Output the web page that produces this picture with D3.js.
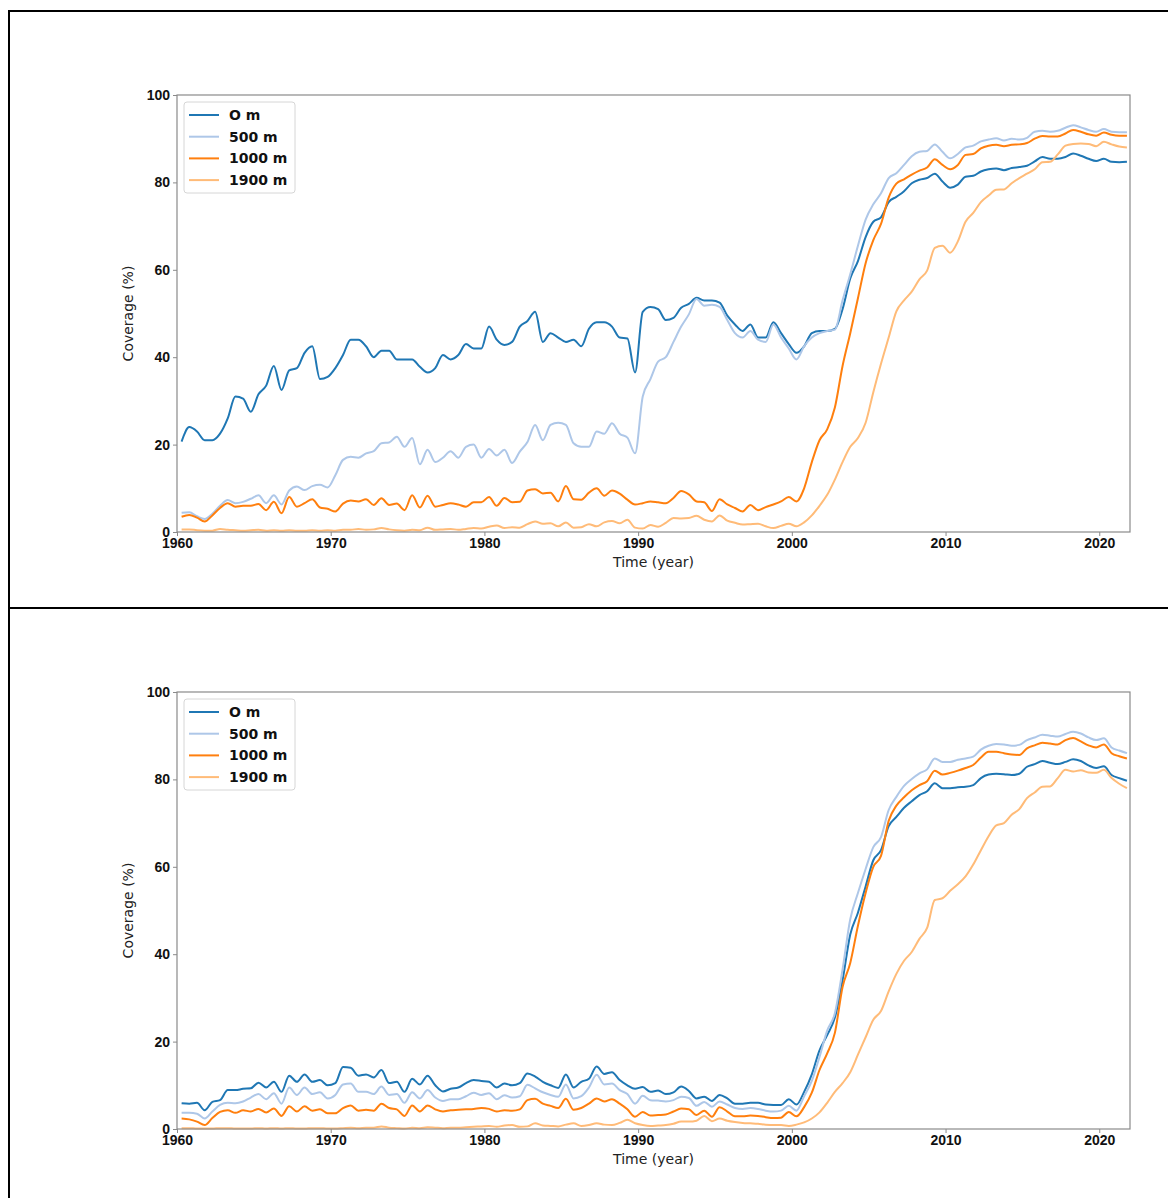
<!DOCTYPE html>
<html>
<head>
<meta charset="utf-8">
<script src="https://cdn.jsdelivr.net/npm/d3@7"></script>
<style>
  body { margin: 0; background: #fff; }
  svg { display: block; font-family: "DejaVu Sans", sans-serif; }
</style>
</head>
<body>
<div id="chart"></div>
<script>
// time axis: one value every half year, from 1960.3 to 2021.8
const years = d3.range(124).map((i) => 1960.3 + i * 0.5);

const seriesNames = ["O m", "500 m", "1000 m", "1900 m"];
const seriesColors = ["#1f77b4", "#aec7e8", "#ff7f0e", "#ffbb78"];

const xTicks = [1960, 1970, 1980, 1990, 2000, 2010, 2020];
const yTicks = [0, 20, 40, 60, 80, 100];

// top panel
const top0 = [
  20.7, 24.0, 23.0, 21.0, 21.0, 22.5, 26.0, 31.0, 30.5, 27.5,
  31.5, 33.5, 38.0, 32.5, 37.0, 37.5, 41.0, 42.5, 35.0, 35.5,
  37.5, 40.5, 44.0, 44.0, 42.5, 40.0, 41.5, 41.5, 39.5, 39.5,
  39.5, 37.8, 36.5, 37.5, 40.5, 39.5, 40.5, 43.0, 42.0, 42.0,
  47.0, 44.0, 42.8, 43.5, 47.0, 48.3, 50.4, 43.5, 45.5, 44.5,
  43.5, 44.0, 42.5, 46.5, 48.0, 48.0, 47.0, 44.5, 44.3, 36.5,
  50.4, 51.5, 51.0, 48.5, 49.0, 51.3, 52.2, 53.6, 53.0, 53.0,
  52.5, 49.5, 47.5, 46.0, 47.5, 44.5, 44.5, 48.0, 45.5, 43.0,
  41.0, 42.5, 45.5, 46.0, 46.0, 46.5, 51.0, 58.0, 62.0, 67.5,
  71.0, 72.0, 75.5, 76.7, 78.0, 79.8, 80.6, 81.0, 82.0, 80.2,
  78.8, 79.5, 81.3, 81.5, 82.5, 83.0, 83.2, 82.8, 83.3, 83.5,
  83.8, 84.8, 85.8, 85.4, 85.4, 85.8, 86.6, 86.1, 85.4, 84.9,
  85.4, 84.7, 84.6, 84.7
];
const top500 = [
  4.4, 4.5, 3.6, 3.0, 4.2, 6.0, 7.3, 6.6, 6.9, 7.6,
  8.4, 6.6, 8.4, 6.3, 9.5, 10.4, 9.6, 10.5, 10.8, 10.2,
  13.0, 16.5, 17.2, 17.0, 18.0, 18.5, 20.3, 20.5, 21.8, 19.5,
  21.5, 15.5, 18.8, 16.0, 17.0, 18.5, 17.0, 19.5, 20.0, 17.0,
  19.0, 17.5, 18.8, 15.8, 18.4, 20.6, 24.5, 21.0, 24.5, 25.0,
  24.5, 20.3, 19.5, 19.5, 23.0, 22.5, 24.9, 22.5, 21.6, 18.0,
  31.0, 35.0, 39.0, 40.0, 43.5, 47.0, 49.8, 53.3, 51.8, 52.0,
  51.5, 48.5, 45.5, 44.5, 46.0, 44.0, 43.5, 47.5, 44.5, 42.0,
  39.5, 42.5, 44.5, 45.5, 46.0, 46.3, 53.0, 59.0, 65.5, 71.5,
  75.0, 77.5, 81.0, 82.1, 84.0, 86.0, 87.0, 87.2, 88.7, 87.0,
  85.5, 86.5, 88.0, 88.4, 89.4, 89.8, 90.1, 89.6, 90.0, 89.8,
  90.2, 91.6, 91.8, 91.6, 91.8, 92.5, 93.1, 92.6, 92.0, 91.6,
  92.2, 91.6, 91.5, 91.5
];
const top1000 = [
  3.5, 3.9, 3.3, 2.4, 3.8, 5.5, 6.6, 5.8, 6.0, 6.0,
  6.4, 5.0, 6.9, 4.3, 8.0, 5.8, 6.6, 7.5, 5.6, 5.3,
  4.7, 6.5, 7.2, 7.0, 7.5, 6.2, 7.7, 6.2, 6.5, 5.0,
  8.4, 5.6, 8.3, 5.8, 6.2, 6.6, 6.3, 5.8, 6.8, 6.8,
  8.0, 6.0, 7.8, 6.8, 6.9, 9.5, 9.8, 8.8, 9.0, 7.0,
  10.5, 7.5, 7.4, 9.0, 10.0, 8.3, 9.5, 8.8, 7.4, 6.3,
  6.6, 7.0, 6.8, 6.6, 7.8, 9.4, 8.6, 7.0, 6.8, 4.8,
  7.5, 6.3, 5.5, 4.7, 6.2, 5.0, 5.7, 6.3, 7.0, 8.0,
  7.0, 10.0, 16.0, 21.0, 23.5, 28.5, 38.0, 45.5, 53.5, 61.5,
  66.8, 70.5, 76.5, 79.7, 80.7, 81.8, 82.7, 83.4, 85.3, 84.0,
  83.0, 84.0, 86.3, 86.5, 87.8, 88.4, 88.6, 88.3, 88.6, 88.7,
  89.0, 90.0, 90.6, 90.5, 90.5, 91.2, 92.0, 91.6, 91.0, 90.7,
  91.4, 90.9, 90.7, 90.7
];
const top1900 = [
  0.6, 0.6, 0.4, 0.3, 0.3, 0.7, 0.5, 0.4, 0.3, 0.4,
  0.5, 0.3, 0.4, 0.3, 0.4, 0.3, 0.3, 0.4, 0.3, 0.4,
  0.3, 0.5, 0.5, 0.7, 0.5, 0.6, 0.9, 0.6, 0.4, 0.3,
  0.5, 0.4, 1.0, 0.5, 0.6, 0.7, 0.5, 0.7, 0.9, 0.8,
  1.2, 1.5, 0.9, 1.1, 1.0, 1.8, 2.4, 1.9, 2.0, 1.3,
  2.2, 1.0, 1.1, 1.8, 1.3, 2.2, 2.5, 2.0, 2.8, 1.0,
  0.8, 1.6, 1.2, 2.1, 3.2, 3.1, 3.2, 3.7, 2.8, 2.4,
  3.8, 2.6, 2.1, 1.7, 1.8, 1.9, 1.3, 0.9, 1.4, 1.9,
  1.3, 2.2, 3.8, 6.0, 8.5, 12.0, 16.0, 19.5, 21.5, 25.0,
  32.0, 38.5, 44.5, 50.5, 53.0, 55.0, 57.8, 59.8, 65.0, 65.5,
  63.9, 66.5, 71.0, 73.0, 75.5, 77.0, 78.3, 78.4, 79.8, 81.0,
  82.0, 83.0, 84.6, 84.7, 86.4, 88.4, 88.8, 88.9, 88.8, 88.3,
  89.3, 88.7, 88.2, 88.0
];

// bottom panel
const bottom0 = [
  5.9, 5.8, 6.0, 4.3, 6.2, 6.6, 8.9, 8.9, 9.2, 9.3,
  10.6, 9.5, 10.8, 8.5, 12.2, 10.8, 12.5, 10.8, 11.2, 10.0,
  10.5, 14.2, 14.0, 12.2, 12.5, 11.8, 13.5, 10.5, 10.8, 8.5,
  11.5, 10.2, 12.2, 10.0, 8.6, 9.2, 9.5, 10.5, 11.2, 11.0,
  10.8, 9.5, 10.4, 10.0, 10.5, 12.7, 12.0, 10.8, 10.0, 9.4,
  12.5, 9.5, 10.8, 11.5, 14.3, 12.6, 13.0, 11.2, 10.0, 9.2,
  9.6, 8.5, 8.8, 8.0, 8.4, 9.7, 8.7, 7.0, 7.4, 6.4,
  7.8, 7.0, 5.8, 5.8, 6.0, 6.0, 5.6, 5.5, 5.5, 6.8,
  5.6, 8.5, 12.5, 18.0, 21.5, 25.5, 34.0, 44.5, 49.5, 55.5,
  61.5, 63.8, 69.3, 71.4, 73.5, 75.0, 76.4, 77.3, 79.1, 78.0,
  78.0, 78.2, 78.3, 78.7, 80.3, 81.1, 81.3, 81.2, 81.0, 81.3,
  82.9, 83.5, 84.2, 83.8, 83.5, 84.0, 84.6, 84.2, 83.2, 82.6,
  83.0, 81.0, 80.3, 79.7
];
const bottom500 = [
  3.7, 3.7, 3.5, 2.4, 4.0, 5.5, 6.0, 5.9, 6.3, 7.2,
  8.0, 6.8, 8.2, 5.8, 9.5, 7.8, 9.5, 8.0, 8.4, 7.0,
  7.8, 10.2, 10.4, 8.5, 8.5, 8.0, 9.7, 7.8, 8.0, 6.0,
  8.4, 7.0, 8.9, 7.2, 6.4, 6.8, 6.8, 7.5, 8.3, 7.8,
  8.2, 6.8, 7.7, 7.2, 7.5, 10.1, 9.3, 8.4, 7.8, 7.4,
  10.2, 7.0, 7.5, 9.5, 12.4, 10.2, 10.4, 8.9, 8.0, 5.8,
  7.6, 6.6, 6.5, 6.3, 6.6, 7.4, 7.1, 5.3, 6.2, 5.1,
  6.3, 5.6, 4.8, 4.6, 4.8, 4.6, 4.2, 4.0, 4.2, 5.3,
  4.2, 7.5, 11.0, 16.5, 22.5, 26.5, 36.5, 48.0, 54.0, 59.5,
  64.5, 66.8, 73.0, 76.0, 78.5, 80.1, 81.4, 82.3, 84.8, 84.0,
  84.0, 84.5, 84.8, 85.2, 86.8, 87.7, 88.1, 88.0, 87.7, 87.9,
  89.0, 89.6, 90.2, 90.0, 89.8, 90.4, 90.9, 90.5, 89.6, 89.0,
  89.4, 87.3, 86.6, 86.0
];
const bottom1000 = [
  2.4, 2.2, 1.7, 0.9, 2.5, 3.9, 4.3, 3.7, 4.3, 4.0,
  4.6, 3.8, 4.7, 3.0, 5.2, 4.0, 5.2, 4.2, 4.5, 3.6,
  3.6, 4.8, 5.4, 4.2, 4.4, 4.2, 5.8, 4.8, 4.5, 3.0,
  5.4, 4.0, 5.4, 4.5, 4.0, 4.3, 4.4, 4.5, 4.6, 4.8,
  4.6, 4.0, 4.3, 4.2, 4.5, 6.6, 6.9, 5.8, 5.3, 4.8,
  6.9, 4.4, 4.8, 5.8, 7.0, 6.3, 6.8, 5.8, 4.5, 2.8,
  3.9, 3.1, 3.2, 3.3, 4.0, 4.7, 4.5, 3.2, 4.2, 2.8,
  5.0, 4.0, 2.9, 2.9, 3.1, 3.0, 2.7, 2.5, 2.6, 3.9,
  2.9, 5.0, 8.3, 13.5, 17.3, 22.0, 32.5, 38.0, 46.5, 54.0,
  60.0, 62.5, 70.5, 74.0, 75.9, 77.5, 78.7, 79.6, 82.0, 81.1,
  81.5, 82.0, 82.6, 83.3, 85.0, 86.3, 86.3, 86.0, 85.7, 85.6,
  87.1, 87.8, 88.4, 88.2, 88.0, 89.0, 89.5, 88.7, 87.8, 87.3,
  88.0, 86.0, 85.3, 84.8
];
const bottom1900 = [
  0.2, 0.2, 0.1, 0.1, 0.1, 0.2, 0.2, 0.1, 0.1, 0.1,
  0.2, 0.1, 0.2, 0.1, 0.2, 0.1, 0.1, 0.2, 0.2, 0.1,
  0.1, 0.2, 0.3, 0.2, 0.3, 0.3, 0.6, 0.3, 0.2, 0.1,
  0.3, 0.2, 0.4, 0.3, 0.2, 0.3, 0.3, 0.4, 0.5, 0.6,
  0.7, 0.5, 0.8, 0.9, 0.5, 0.6, 1.3, 0.8, 0.7, 0.6,
  1.0, 1.3, 0.7, 0.9, 1.3, 1.0, 0.9, 1.4, 2.1, 1.3,
  0.9, 0.7, 0.8, 0.9, 1.2, 1.7, 1.7, 1.9, 3.0, 1.8,
  2.4, 1.9, 1.6, 1.4, 1.3, 1.2, 1.0, 0.9, 0.9, 0.7,
  1.0, 1.5, 2.4, 3.8, 6.0, 8.5, 10.5, 13.0, 17.0, 21.0,
  25.0, 27.0, 31.5, 35.5, 38.5, 40.5, 43.5, 46.0, 52.4, 52.8,
  54.5, 56.0, 57.8, 60.5, 63.8, 67.0, 69.5, 70.0, 71.9, 73.2,
  75.7, 77.0, 78.3, 78.4, 80.3, 82.2, 81.8, 82.1, 81.6, 81.5,
  82.2, 80.3, 79.0, 78.0
];

const width = 1168,
  height = 1198;

const svg = d3
  .select("#chart")
  .append("svg")
  .attr("width", width)
  .attr("height", height);

// outer frame of the figure (top, left and the divider between panels)
svg.append("line").attr("x1", 8).attr("x2", width).attr("y1", 11).attr("y2", 11)
  .attr("stroke", "#000").attr("stroke-width", 2);
svg.append("line").attr("x1", 9).attr("x2", 9).attr("y1", 10).attr("y2", height)
  .attr("stroke", "#000").attr("stroke-width", 2);
svg.append("line").attr("x1", 8).attr("x2", width).attr("y1", 608).attr("y2", 608)
  .attr("stroke", "#000").attr("stroke-width", 2);

// plot area (same horizontal extent in both panels)
const left = 177,
  right = 1130,
  plotHeight = 437;

const x = d3.scaleLinear().domain([1960, 2022]).range([left, right]);

function drawPanel(top, seriesList) {
  const y = d3.scaleLinear().domain([0, 100]).range([top + plotHeight, top]);
  const g = svg.append("g");

  // lines
  const line = d3
    .line()
    .x((d, i) => x(years[i]))
    .y((d) => y(d))
    .curve(d3.curveMonotoneX);

  seriesList.forEach((values, k) => {
    g.append("path")
      .datum(values)
      .attr("fill", "none")
      .attr("stroke", seriesColors[k])
      .attr("stroke-width", 2)
      .attr("stroke-linejoin", "round")
      .attr("d", line);
  });

  // frame
  g.append("rect")
    .attr("x", left)
    .attr("y", top)
    .attr("width", right - left)
    .attr("height", plotHeight)
    .attr("fill", "none")
    .attr("stroke", "#8a8a8a")
    .attr("stroke-width", 1.2);

  // x axis
  const xAxis = g
    .append("g")
    .attr("transform", `translate(0, ${top + plotHeight})`)
    .call(
      d3.axisBottom(x).tickValues(xTicks).tickSize(4).tickPadding(2).tickFormat(d3.format("d"))
    );
  xAxis.select(".domain").remove();
  xAxis.selectAll(".tick line").attr("stroke", "#8a8a8a");
  xAxis.selectAll("text")
    .attr("fill", "#111")
    .style("font-size", "14px")
    .style("font-weight", "bold");

  // y axis
  const yAxis = g
    .append("g")
    .attr("transform", `translate(${left}, 0)`)
    .call(d3.axisLeft(y).tickValues(yTicks).tickSize(4).tickPadding(3));
  yAxis.select(".domain").remove();
  yAxis.selectAll(".tick line").attr("stroke", "#8a8a8a");
  yAxis.selectAll("text")
    .attr("fill", "#111")
    .style("font-size", "14px")
    .style("font-weight", "bold");

  // axis labels
  g.append("text")
    .attr("x", (left + right) / 2)
    .attr("y", top + plotHeight + 35)
    .attr("text-anchor", "middle")
    .style("font-size", "14px")
    .attr("fill", "#222")
    .text("Time (year)");

  g.append("text")
    .attr("transform", `translate(133, ${top + plotHeight / 2}) rotate(-90)`)
    .attr("text-anchor", "middle")
    .style("font-size", "14px")
    .attr("fill", "#222")
    .text("Coverage (%)");

  // legend
  const legend = g.append("g").attr("transform", `translate(184, ${top + 7})`);
  legend
    .append("rect")
    .attr("width", 111)
    .attr("height", 91)
    .attr("rx", 3)
    .attr("fill", "#fff")
    .attr("fill-opacity", 0.8)
    .attr("stroke", "#d6d6d6");

  seriesNames.forEach((name, k) => {
    const ly = 13 + k * 21.7;
    legend.append("line")
      .attr("x1", 5)
      .attr("x2", 35)
      .attr("y1", ly)
      .attr("y2", ly)
      .attr("stroke", seriesColors[k])
      .attr("stroke-width", 2);
    legend.append("text")
      .attr("x", 45)
      .attr("y", ly)
      .attr("dy", "0.35em")
      .style("font-size", "14px")
      .style("font-weight", "bold")
      .attr("fill", "#111")
      .text(name);
  });
}

drawPanel(95, [top0, top500, top1000, top1900]);
drawPanel(692, [bottom0, bottom500, bottom1000, bottom1900]);
</script>
</body>
</html>
